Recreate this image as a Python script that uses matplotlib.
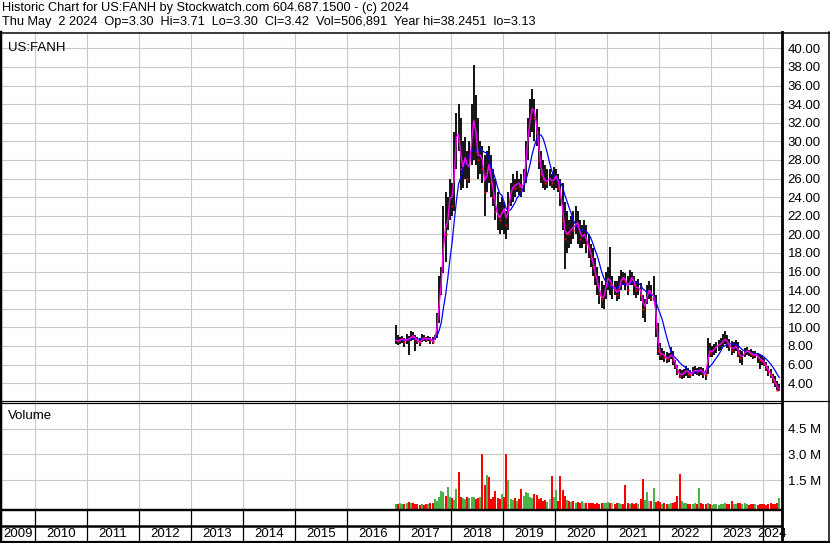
import matplotlib
matplotlib.use("Agg")
import matplotlib.pyplot as plt
import numpy as np
import pandas as pd

plt.rcParams["font.family"] = ["Liberation Sans", "DejaVu Sans"]

# half-monthly bars, Dec 2016 .. Apr 2024
start_year = 2016 + 11 / 12
high = [10.3, 9.2, 9.0, 9.1, 8.9, 9.3, 9.1, 9.6, 9.5, 9.2, 9.0, 8.8, 9.3, 9.2, 9.0, 9.1, 9.0, 9.0, 9.2,
        11.5, 15.5, 16.5, 23.0, 24.5, 24.0, 26.0, 25.5, 31.0, 33.0, 34.0, 32.5, 30.0, 30.5, 29.0, 30.0,
        34.0, 38.2, 35.0, 32.5, 30.0, 29.5, 28.5, 29.0, 29.5, 28.5, 27.0, 26.0, 24.5, 23.5, 24.0, 23.5,
        22.5, 24.5, 25.5, 26.5, 26.0, 26.8, 26.0, 26.5, 27.0, 30.0, 32.5, 34.5, 35.6, 34.5, 33.5, 31.5,
        29.0, 28.0, 27.5, 27.0, 27.0, 26.5, 27.2, 27.0, 26.5, 26.0, 25.5, 23.5, 22.5, 21.5, 22.0, 22.5,
        23.0, 22.5, 21.5, 21.0, 21.5, 21.0, 20.0, 19.0, 18.5, 17.5, 16.5, 15.5, 15.0, 14.5, 16.0, 16.5,
        18.6, 15.5, 15.0, 15.0, 15.5, 16.2, 16.0, 15.8, 15.5, 16.2, 16.0, 15.5, 15.0, 15.2, 14.8, 13.5,
        13.0, 14.5, 15.0, 14.5, 15.5, 13.5, 10.5, 8.3, 7.8, 7.5, 7.3, 7.2, 7.9, 7.4, 6.5, 6.0, 5.5, 5.4,
        5.5, 5.8, 5.6, 5.4, 5.7, 5.8, 5.6, 5.7, 5.7, 5.6, 5.4, 8.8, 8.3, 8.0, 8.2, 8.4, 8.6, 8.8, 9.3,
        9.6, 9.2, 8.7, 8.5, 8.4, 8.6, 8.4, 7.6, 7.5, 7.8, 7.9, 7.6, 7.7, 7.4, 7.5, 7.2, 7.0, 6.9, 6.7,
        6.3, 5.8, 5.5, 5.0, 4.8, 4.2, 3.9]
low = [8.2, 8.1, 8.2, 8.3, 7.9, 8.2, 7.0, 8.5, 8.6, 7.5, 8.2, 8.0, 8.4, 8.5, 8.4, 8.5, 8.2, 8.2, 8.6,
       8.8, 10.5, 13.5, 15.8, 17.0, 20.5, 21.5, 22.0, 22.5, 27.0, 29.0, 24.8, 25.0, 26.0, 25.0, 25.5,
       27.5, 28.0, 27.5, 26.0, 26.5, 25.5, 22.0, 24.5, 25.5, 24.0, 23.0, 21.5, 20.5, 20.0, 20.5, 20.0,
       19.5, 20.5, 23.0, 23.5, 24.0, 24.5, 24.2, 24.0, 24.5, 25.5, 28.0, 30.5, 31.0, 30.0, 29.5, 27.0,
       25.5, 25.0, 24.8, 25.0, 25.2, 25.0, 24.8, 25.0, 24.5, 23.0, 20.5, 16.3, 18.0, 18.5, 19.0, 19.5,
       20.0, 19.0, 18.5, 18.5, 19.0, 18.0, 17.5, 16.5, 15.5, 14.5, 13.5, 12.5, 12.1, 12.0, 13.0, 14.0,
       13.5, 13.0, 13.5, 12.8, 13.0, 14.0, 14.5, 14.0, 13.5, 14.5, 14.5, 13.5, 13.2, 13.5, 12.8, 11.0,
       10.6, 12.5, 13.0, 12.8, 12.8, 9.0, 7.0, 6.5, 6.5, 6.3, 6.2, 6.3, 6.6, 6.0, 5.5, 4.9, 4.5, 4.4,
       4.6, 4.8, 4.6, 4.5, 4.8, 5.0, 4.9, 4.8, 4.9, 4.5, 4.3, 5.0, 6.8, 6.8, 7.0, 7.2, 7.5, 7.6, 8.0,
       8.2, 7.8, 7.5, 7.0, 7.2, 7.5, 6.8, 6.2, 6.0, 6.8, 7.0, 6.9, 6.8, 6.6, 6.7, 6.2, 5.5, 6.0, 5.8,
       5.3, 4.8, 4.5, 4.0, 3.6, 3.3, 3.1]
close = [8.6, 8.5, 8.7, 8.8, 8.4, 8.9, 8.6, 9.2, 9.0, 8.7, 8.5, 8.3, 8.9, 8.8, 8.7, 8.9, 8.6, 8.4, 9.0,
         10.8, 14.0, 15.5, 21.5, 20.0, 22.8, 25.0, 23.0, 29.5, 31.5, 30.0, 27.0, 27.5, 29.0, 26.0, 28.5,
         31.5, 33.0, 29.0, 28.0, 29.0, 27.0, 24.5, 28.0, 27.0, 25.5, 24.0, 22.5, 22.0, 21.5, 23.0, 22.5,
         21.0, 24.0, 24.5, 25.5, 25.0, 25.8, 25.2, 24.8, 26.0, 29.0, 31.5, 33.0, 34.0, 32.5, 31.0, 28.0,
         26.5, 26.0, 25.5, 26.0, 26.0, 25.5, 26.2, 26.4, 25.0, 24.0, 21.5, 19.5, 20.5, 20.0, 21.0, 20.5,
         21.5, 21.0, 19.5, 20.0, 20.0, 19.0, 18.5, 17.5, 16.5, 15.5, 14.5, 13.5, 13.0, 13.5, 15.0, 15.5,
         14.5, 14.5, 14.0, 13.5, 14.5, 15.5, 15.2, 15.0, 14.0, 15.5, 15.2, 14.5, 14.0, 14.5, 13.5, 12.0,
         12.5, 14.0, 14.0, 13.2, 13.6, 10.0, 7.5, 7.0, 7.2, 6.8, 6.6, 6.8, 7.2, 6.5, 5.8, 5.2, 4.8, 5.0,
         5.1, 5.5, 5.0, 4.9, 5.3, 5.4, 5.2, 5.5, 5.3, 5.0, 4.9, 7.8, 7.2, 7.5, 7.8, 8.0, 8.1, 8.3, 8.6,
         8.8, 8.2, 8.0, 7.6, 7.9, 8.0, 7.2, 6.7, 7.0, 7.4, 7.5, 7.3, 7.1, 7.0, 7.1, 6.8, 6.5, 6.4, 6.1,
         5.6, 5.2, 4.9, 4.3, 4.0, 3.3, 3.42]
# peak daily volume in each half-month, millions of shares
volume = [0.10, 0.12, 0.15, 0.10, 0.12, 0.18, 0.25, 0.20, 0.15, 0.12, 0.10, 0.08, 0.10, 0.08, 0.12,
          0.10, 0.15, 0.20, 0.40, 0.30, 0.55, 0.85, 0.80, 0.60, 1.10, 0.50, 0.45, 0.35, 0.99, 2.00,
          0.50, 0.45, 0.40, 0.50, 0.45, 0.55, 0.50, 0.40, 0.45, 0.50, 3.00, 1.25, 1.80, 1.70, 0.40,
          0.50, 0.86, 0.45, 0.40, 0.70, 0.55, 3.00, 1.50, 0.40, 0.35, 0.45, 0.30, 0.40, 1.00, 0.60,
          0.80, 0.75, 0.50, 0.45, 0.70, 0.65, 0.40, 0.45, 0.30, 0.35, 0.25, 0.40, 1.75, 0.50, 0.95,
          0.30, 1.75, 0.95, 0.60, 0.35, 0.30, 0.25, 0.30, 0.20, 0.25, 0.20, 0.30, 0.20, 0.15, 0.20,
          0.15, 0.20, 0.12, 0.15, 0.10, 0.15, 0.20, 0.18, 0.25, 0.20, 0.15, 0.12, 0.18, 0.15, 0.10,
          0.12, 1.22, 0.15, 0.12, 0.20, 0.10, 0.15, 0.12, 0.40, 1.56, 0.35, 0.80, 0.30, 0.30, 1.05,
          0.25, 0.30, 0.25, 0.12, 0.15, 0.10, 0.12, 0.15, 0.20, 0.25, 0.60, 1.86, 0.30, 0.20, 0.15,
          0.10, 0.12, 0.10, 0.15, 0.12, 1.05, 0.15, 0.10, 0.12, 0.15, 0.10, 0.08, 0.10, 0.12, 0.08,
          0.10, 0.12, 0.15, 0.10, 0.10, 0.30, 0.12, 0.10, 0.15, 0.20, 0.12, 0.15, 0.10, 0.08, 0.10,
          0.12, 0.10, 0.08, 0.10, 0.12, 0.10, 0.08, 0.10, 0.15, 0.12, 0.10, 0.20, 0.45]

years = list(range(2009, 2025))
price_ticks = list(range(4, 41, 2))
vol_ticks = [1.5, 3.0, 4.5]
title1 = "Historic Chart for US:FANH by Stockwatch.com 604.687.1500 - (c) 2024"
title2 = ("Thu May  2 2024  Op=3.30  Hi=3.71  Lo=3.30  Cl=3.42  Vol=506,891  "
          "Year hi=38.2451  lo=3.13")

n = len(close)
t = start_year + (np.arange(n) + 0.5) / 24
cs = pd.Series(close)
ma_fast = cs.rolling(2, min_periods=1).mean()
ma_slow = cs.rolling(8, min_periods=1).mean()
chg = cs.diff().fillna(1)
vcolor = np.where(chg > 0, "#4cb34c", np.where(chg < 0, "#ff0000", "#a8a8a8"))

W, H = 830, 543
fig = plt.figure(figsize=(W / 100, H / 100), dpi=100)


def px_axes(x0, y0, x1, y1):
    return fig.add_axes([x0 / W, 1 - y1 / H, (x1 - x0) / W, (y1 - y0) / H])


def px_to_year(x):
    return 2010 + (x - 35) / 52


def px_to_price(y):
    return 40 - (y - 48.3) / 9.3


grid_c = "#c8c8c8"
xl = (px_to_year(2), px_to_year(782))
ylines = [float(y) for y in years[1:]]

# price panel
ax = px_axes(2, 33, 782, 401)
ax.set_xlim(*xl)
ax.set_ylim(px_to_price(401), px_to_price(33))
ax.vlines(t, low, high, color="black", lw=1.3, zorder=3)
down = chg.values < 0
ax.plot(t[down], cs.values[down], ls="none", marker="s", ms=1.6, mfc="#ff0000", mec="none", zorder=4)
ax.plot(t, ma_slow, color="#0000ff", lw=0.9, zorder=5)
ax.plot(t, ma_fast, color="#ff00ff", lw=1.0, zorder=5)
ax.set_xticks(ylines)
ax.set_xticklabels([])
ax.yaxis.tick_right()
ax.set_yticks(price_ticks)
ax.set_yticklabels([f"{v:.2f}" for v in price_ticks])
ax.tick_params(length=0, pad=4, labelsize=9.5)
ax.grid(True, color=grid_c, lw=0.8, zorder=0)
for s in ax.spines.values():
    s.set_visible(False)
ax.text(0.008, 0.975, "US:FANH", transform=ax.transAxes, fontsize=9.5, va="top", ha="left")

# volume panel
av = px_axes(2, 402.7, 782, 509.5)
av.set_xlim(*xl)
av.set_ylim(-0.2, 6.0)
av.bar(t, np.array(volume) + 0.2, bottom=-0.2, width=1 / 24 * 0.9, color=vcolor, zorder=3)
av.set_xticks(ylines)
av.set_xticklabels([])
av.yaxis.tick_right()
av.set_yticks(vol_ticks)
av.set_yticklabels([f"{v:.1f} M" for v in vol_ticks])
av.tick_params(length=0, pad=4, labelsize=9.5)
av.grid(True, color=grid_c, lw=0.8, zorder=0)
for s in av.spines.values():
    s.set_visible(False)
av.text(0.008, 0.93, "Volume", transform=av.transAxes, fontsize=9.5, va="top", ha="left")

# year strip
ay = px_axes(2, 510, 782, 542)
ay.set_xlim(*xl)
ay.set_ylim(0, 1)
ay.axis("off")
ay.vlines(ylines, 0, 1, color="black", lw=0.9)
ay.axhline(0.5, color="black", lw=1.8)
for yr in years:
    a = max(float(yr), xl[0])
    b = min(float(yr + 1), xl[1])
    ay.text((a + b) / 2, 0.24, str(yr), ha="center", va="center", fontsize=9.5)

# frame and header
ov = fig.add_axes([0, 0, 1, 1], facecolor="none")
ov.set_xlim(0, W)
ov.set_ylim(H, 0)
ov.axis("off")
k = 0.72
ov.plot([0, W], [32.5, 32.5], color="black", lw=1.5 * k)
ov.plot([1.2, 1.2], [32, H], color="black", lw=2.5 * k)
ov.plot([828.5, 828.5], [32, H], color="black", lw=1.5 * k)
ov.plot([0, W], [541.8, 541.8], color="black", lw=2.2 * k)
ov.plot([782, 782], [32, H], color="black", lw=2.8 * k)
ov.plot([0, W], [400.7, 400.7], color="black", lw=1.2 * k)
ov.plot([0, 782], [402.8, 402.8], color="black", lw=1.2 * k)
ov.plot([0, 782], [510, 510], color="black", lw=2.4 * k)
ov.text(2, 8.5, title1, fontsize=9.2, va="center", ha="left")
ov.text(2, 22.5, title2, fontsize=9.2, va="center", ha="left")

fig.savefig("out.png", dpi=100)
